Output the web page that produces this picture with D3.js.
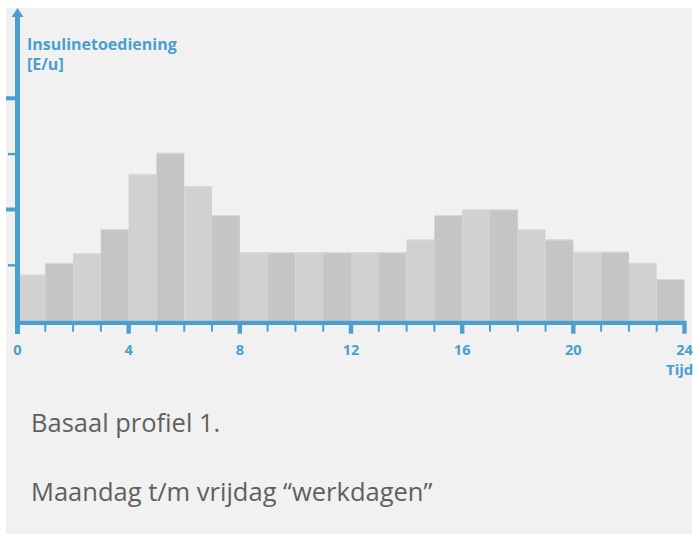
<!DOCTYPE html>
<html>
<head>
<meta charset="utf-8">
<script src="https://cdn.jsdelivr.net/npm/d3@7"></script>
<style>
  body { margin: 0; background: #fff; }
  #chart { width: 693px; height: 534px; }
  .axis-label { font-family: "Open Sans", sans-serif; font-weight: 700; fill: #4a9fcf; }
  .caption { font-family: "Open Sans", sans-serif; fill: #606060; }
</style>
</head>
<body>
<div id="chart"></div>
<script>
// datos: uren van de dag en basale insulinedosis (eenheden van de y-as)
const hours = d3.range(24);
const doses = [0.83, 1.04, 1.21, 1.65, 2.64, 3.02, 2.42, 1.90,
  1.23, 1.23, 1.23, 1.23, 1.23, 1.23, 1.46, 1.90,
  2.00, 2.00, 1.64, 1.46, 1.24, 1.24, 1.04, 0.75];
const xTickLabels = [0, 4, 8, 12, 16, 20, 24];
const yTicks = [1, 2, 3, 4];
const captions = ["Basaal profiel 1.", "Maandag t/m vrijdag \u201cwerkdagen\u201d"];

const blue = "#4a9fcf";

const svg = d3.select("#chart")
  .append("svg")
  .attr("width", 693)
  .attr("height", 534);

// achtergrond paneel
svg.append("rect")
  .attr("x", 6).attr("y", 8)
  .attr("width", 686).attr("height", 526)
  .attr("fill", "#f1f1f1");

// schalen
const x = d3.scaleLinear().domain([0, 24]).range([17.5, 684.5]);
const y = d3.scaleLinear().domain([0, 4]).range([320.7, 98.3]);

// staven
const bars = svg.append("g");
bars.selectAll("rect")
  .data(hours)
  .join("rect")
  .attr("x", (d) => x(d))
  .attr("y", (d) => y(doses[d]))
  .attr("width", (d) => x(d + 1) - x(d))
  .attr("height", (d) => y(0) - y(doses[d]))
  .attr("fill", (d) => (d % 2 === 0 ? "#d1d1d1" : "#c5c5c5"));

bars.selectAll("line")
  .data(hours)
  .join("line")
  .attr("x1", (d) => x(d))
  .attr("x2", (d) => x(d + 1))
  .attr("y1", (d) => y(doses[d]) + 0.5)
  .attr("y2", (d) => y(doses[d]) + 0.5)
  .attr("stroke", "#dadada")
  .attr("stroke-width", 1);

// x-as
svg.append("rect")
  .attr("x", x(0) - 2.5).attr("y", y(0))
  .attr("width", x(24) - x(0) + 4.7).attr("height", 4.3)
  .attr("fill", blue);

svg.append("g").selectAll("rect")
  .data(d3.range(1, 25))
  .join("rect")
  .attr("x", (d) => (d % 4 === 0 ? x(d) - 2.2 : x(d) - 1))
  .attr("y", y(0) + 4)
  .attr("width", (d) => (d % 4 === 0 ? 4.4 : 2))
  .attr("height", (d) => (d % 4 === 0 ? 9 : 7))
  .attr("fill", blue);

svg.append("g").selectAll("text")
  .data(xTickLabels)
  .join("text")
  .attr("class", "axis-label")
  .attr("x", (d) => x(d))
  .attr("y", 354.5)
  .attr("text-anchor", "middle")
  .attr("font-size", 14.5)
  .text((d) => d);

svg.append("text")
  .attr("class", "axis-label")
  .attr("x", 666)
  .attr("y", 375)
  .attr("font-size", 15)
  .text("Tijd");

// y-as
svg.append("rect")
  .attr("x", x(0) - 2.5).attr("y", 16)
  .attr("width", 5).attr("height", 334 - 16)
  .attr("fill", blue);

svg.append("path")
  .attr("d", `M${x(0)},8 L${x(0) + 6},17 L${x(0) - 6},17 Z`)
  .attr("fill", blue);

svg.append("g").selectAll("rect")
  .data(yTicks)
  .join("rect")
  .attr("x", (d) => (d % 2 === 0 ? 6 : 8))
  .attr("y", (d) => (d % 2 === 0 ? y(d) - 2 : y(d) - 1))
  .attr("width", (d) => (d % 2 === 0 ? x(0) - 8.5 : x(0) - 10.5))
  .attr("height", (d) => (d % 2 === 0 ? 4 : 2.4))
  .attr("fill", blue);

svg.append("text")
  .attr("class", "axis-label")
  .attr("x", 27).attr("y", 50)
  .attr("font-size", 16)
  .text("Insulinetoediening");

svg.append("text")
  .attr("class", "axis-label")
  .attr("x", 27).attr("y", 70)
  .attr("font-size", 16)
  .text("[E/u]");

// onderschrift
svg.append("g").selectAll("text")
  .data(captions)
  .join("text")
  .attr("class", "caption")
  .attr("x", 31)
  .attr("y", (d, i) => 432 + i * 69)
  .attr("font-size", 25.5)
  .text((d) => d);
</script>
</body>
</html>
